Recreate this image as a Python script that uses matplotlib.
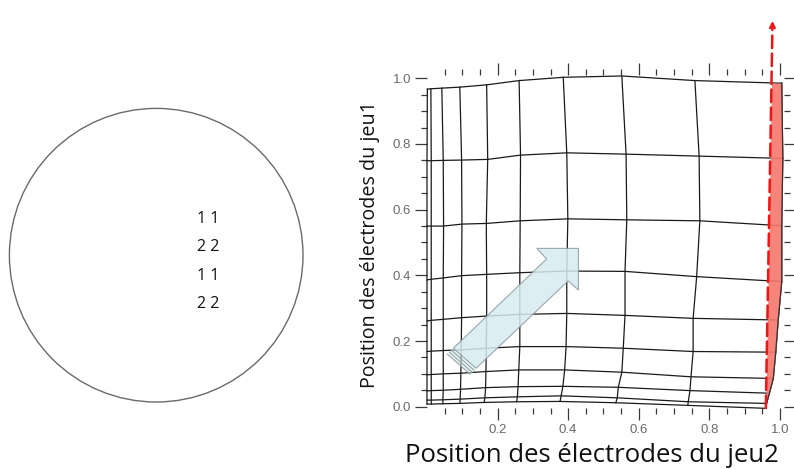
import numpy as np
import matplotlib.pyplot as plt
from matplotlib.patches import Circle, Polygon

# left panel: electrode layout inside the wafer
pattern_rows = ["1 1", "2 2", "1 1", "2 2"]

# right panel: deformed mesh, nodes listed row by row (bottom -> top), columns left -> right
node_x = np.array([
    [0.000, 0.012, 0.045, 0.093, 0.162, 0.254, 0.377, 0.535, 0.739, 0.960],
    [0.000, 0.012, 0.045, 0.094, 0.164, 0.256, 0.380, 0.539, 0.740, 0.962],
    [0.000, 0.012, 0.046, 0.095, 0.166, 0.258, 0.385, 0.542, 0.745, 0.970],
    [0.000, 0.012, 0.046, 0.096, 0.167, 0.260, 0.390, 0.552, 0.748, 0.981],
    [0.000, 0.012, 0.046, 0.097, 0.168, 0.263, 0.394, 0.556, 0.754, 0.988],
    [0.000, 0.012, 0.046, 0.098, 0.169, 0.263, 0.396, 0.561, 0.754, 0.995],
    [0.000, 0.012, 0.046, 0.098, 0.169, 0.263, 0.396, 0.561, 0.764, 1.005],
    [0.000, 0.012, 0.047, 0.099, 0.168, 0.264, 0.399, 0.566, 0.773, 1.005],
    [0.000, 0.012, 0.046, 0.098, 0.172, 0.265, 0.396, 0.564, 0.771, 1.008],
    [0.001, 0.011, 0.042, 0.093, 0.169, 0.261, 0.386, 0.552, 0.759, 1.005],
])
node_y = np.array([
    [0.008, 0.008, 0.009, 0.010, 0.013, 0.015, 0.016, 0.012, 0.004, -0.005],
    [0.020, 0.020, 0.021, 0.023, 0.027, 0.030, 0.033, 0.027, 0.015, 0.010],
    [0.048, 0.049, 0.050, 0.053, 0.058, 0.061, 0.062, 0.059, 0.049, 0.041],
    [0.097, 0.098, 0.100, 0.102, 0.107, 0.112, 0.112, 0.105, 0.091, 0.086],
    [0.168, 0.169, 0.171, 0.173, 0.178, 0.183, 0.183, 0.178, 0.168, 0.166],
    [0.261, 0.263, 0.266, 0.271, 0.276, 0.281, 0.284, 0.278, 0.269, 0.264],
    [0.386, 0.388, 0.392, 0.399, 0.403, 0.408, 0.413, 0.412, 0.396, 0.381],
    [0.550, 0.550, 0.550, 0.556, 0.558, 0.566, 0.572, 0.569, 0.566, 0.551],
    [0.749, 0.749, 0.750, 0.751, 0.753, 0.766, 0.773, 0.769, 0.763, 0.756],
    [0.967, 0.968, 0.970, 0.973, 0.980, 0.993, 1.003, 1.007, 0.993, 0.985],
])

# red dashed direction line (start, end)
dash_x = [0.960, 0.979]
dash_y = [-0.004, 1.175]

# light blue block arrow (axes data units)
arrow_x = [0.0745, 0.339, 0.311, 0.429, 0.429, 0.400, 0.139]
arrow_y = [0.178, 0.450, 0.482, 0.482, 0.355, 0.383, 0.117]

xticks = [0.2, 0.4, 0.6, 0.8, 1.0]
yticks = [0.0, 0.2, 0.4, 0.6, 0.8, 1.0]

W, H = 794, 469
fig = plt.figure(figsize=(W / 100, H / 100), dpi=100)

# ---- left panel ----
axl = fig.add_axes([0, 0, 0.4, 1])
axl.set_xlim(0, 0.4 * W)
axl.set_ylim(H, 0)
axl.set_aspect("equal")
axl.axis("off")
axl.add_patch(Circle((156.2, 255.2), 146.8, fill=False, ec="#6a6a6a", lw=1.0))
for k, s in enumerate(pattern_rows):
    axl.text(208.5, 219 + 28.4 * k, s, ha="center", va="center",
             fontsize=11.5, family="Open Sans", color="#111111")

# ---- right panel ----
ax = fig.add_axes([427 / W, 61 / H, 357.2 / W, 333 / H])
ax.set_xlim(0, 1.012)
ax.set_ylim(-0.004, 1.01)
for sp in ax.spines.values():
    sp.set_visible(False)

grid_kw = dict(color="#1a1a1a", lw=0.9, clip_on=False)
for i in range(node_x.shape[0]):
    ax.plot(node_x[i], node_y[i], **grid_kw)
for j in range(node_x.shape[1]):
    ax.plot(node_x[:, j], node_y[:, j], **grid_kw)

# red band between the dashed line and the right edge of the mesh
edge_y = node_y[:, 9]
line_x = np.interp(edge_y, dash_y, dash_x)
ax.fill_betweenx(edge_y, line_x, node_x[:, 9], color="#f7776d", alpha=0.9,
                 lw=0, clip_on=False, zorder=3)
ax.plot(node_x[:, 9], node_y[:, 9], color="#333333", lw=0.9, zorder=3.5, clip_on=False)
ax.annotate("", xy=(dash_x[1], dash_y[1]), xytext=(dash_x[0], dash_y[0]),
            arrowprops=dict(arrowstyle="->", color="#f01414", lw=1.8,
                            linestyle=(0, (5.0, 2.2)), shrinkA=0, shrinkB=0,
                            mutation_scale=8),
            annotation_clip=False, zorder=5)

# block arrow with striped tail
ax.add_patch(Polygon(np.column_stack([arrow_x, arrow_y]), closed=True,
                     fc="#d6ebef", ec="#8c9a9e", lw=0.8, alpha=0.85, zorder=4))
for off in (0.006, 0.012, 0.018):
    ax.plot([arrow_x[0] - off * 0.93, arrow_x[6] - off * 0.93],
            [arrow_y[0] - off, arrow_y[6] - off], color="#8c9a9e", lw=0.7, zorder=4)
ax.add_patch(Polygon([[arrow_x[0] - 0.017, arrow_y[0] - 0.019],
                      [arrow_x[0], arrow_y[0]],
                      [arrow_x[6], arrow_y[6]],
                      [arrow_x[6] - 0.017, arrow_y[6] - 0.019]],
                     closed=True, fc="#d6ebef", ec="none", alpha=0.6, zorder=3.9))

ax.set_xticks(xticks)
ax.set_xticklabels([f"{v:.1f}" for v in xticks])
ax.set_yticks(yticks)
ax.set_yticklabels([f"{v:.1f}" for v in yticks])
ax.set_xticks(np.arange(0.05, 1.01, 0.05), minor=True)
ax.set_yticks(np.arange(0.05, 1.01, 0.05), minor=True)
ax.tick_params(which="both", direction="out", color="#3a3a3a", width=0.9,
               top=True, right=True, labeltop=False, labelright=False,
               labelsize=9.5, labelcolor="#6a6a6a")
ax.tick_params(which="major", length=8.5, pad=3)
ax.tick_params(which="minor", length=4)
for lab in ax.get_xticklabels() + ax.get_yticklabels():
    lab.set_family("Liberation Sans")

fig.text(592 / W, 1 - 455 / H, "Position des électrodes du jeu2", ha="center",
         va="center", fontsize=18.5, family="Open Sans", color="#111111")
fig.text(370 / W, 1 - 244.5 / H, "Position des électrodes du jeu1", ha="center",
         va="center", rotation=90, fontsize=14.2, family="Open Sans", color="#111111")

fig.savefig("out.png", dpi=100)
